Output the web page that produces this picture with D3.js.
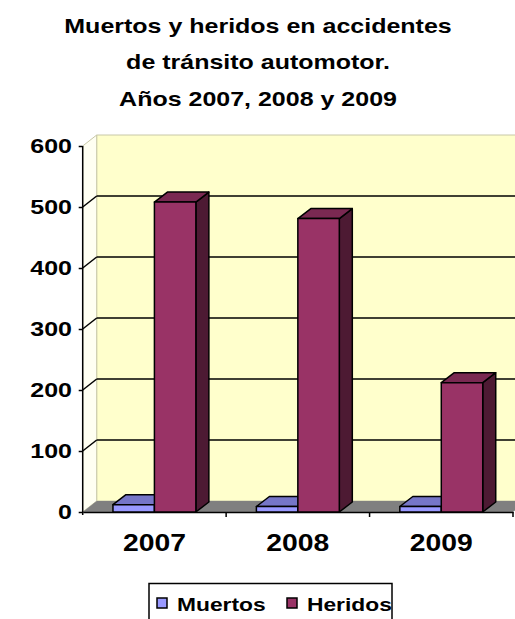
<!DOCTYPE html>
<html>
<head>
<meta charset="utf-8">
<script src="https://cdn.jsdelivr.net/npm/d3@7"></script>
<style>
  body { margin: 0; background: #fff; }
  text { font-family: "Liberation Sans", Arial, sans-serif; font-weight: bold; fill: #000; }
</style>
</head>
<body>
<div id="chart"></div>
<script>
// data
var years = ["2007", "2008", "2009"];
var series = ["Muertos", "Heridos"];
var muertos = [12, 9, 9];
var heridos = [508, 481, 212];
var yTicks = [0, 100, 200, 300, 400, 500, 600];
var titleLines = ["Muertos y heridos en accidentes", "de tránsito automotor.", "Años 2007, 2008 y 2009"];

var w = 515, h = 619;

var colors = {
  Muertos: { front: "#9999ff", top: "#7676c8", side: "#4d4d80" },
  Heridos: { front: "#993366", top: "#7a2952", side: "#4d1a33" }
};

// wall depth and bar depth
var wdx = 14, wdy = -11;
var bdx = 13, bdy = -10;

var svg = d3.select("#chart").append("svg")
  .attr("width", w)
  .attr("height", h);

var y = d3.scaleLinear().domain([0, 600]).range([512, 146]);
var x0 = d3.scaleBand().domain(years).range([82.7, 513]);
var x1 = d3.scaleBand().domain(series).range([0, x0.bandwidth()]).paddingOuter(0.73);

// text is a bit wider than normal in the original picture
function stretched(sel, x, yy, anchor, size, sx) {
  return sel.append("text")
    .attr("transform", "translate(" + x + "," + yy + ") scale(" + sx + ",1)")
    .attr("text-anchor", anchor)
    .style("font-size", size + "px");
}

// title
titleLines.forEach(function (t, i) {
  stretched(svg, 258, 32.5 + i * 36.5, "middle", 21, 1.19).text(t);
});

var left = x0.range()[0], right = x0.range()[1];
var y0 = y(0), yMax = y(600);

// back wall
svg.append("polygon")
  .attr("points", [[left + wdx, yMax + wdy], [right + wdx, yMax + wdy], [right + wdx, y0 + wdy], [left + wdx, y0 + wdy]].join(" "))
  .attr("fill", "#ffffcc")
  .attr("stroke", "#c8c8a8")
  .attr("stroke-width", 1);

// side wall
svg.append("polygon")
  .attr("points", [[left, yMax], [left + wdx, yMax + wdy], [left + wdx, y0 + wdy], [left, y0]].join(" "))
  .attr("fill", "#fffff2")
  .attr("stroke", "#c8c8a8")
  .attr("stroke-width", 1);

// floor
svg.append("polygon")
  .attr("points", [[left, y0], [left + wdx, y0 + wdy], [right + wdx, y0 + wdy], [right, y0]].join(" "))
  .attr("fill", "#808080");

// gridlines on the back wall and the side wall
var grid = yTicks.filter(function (d) { return d > 0 && d < 600; });
svg.selectAll(".grid")
  .data(grid).enter()
  .append("line")
  .attr("x1", left + wdx).attr("x2", right + wdx)
  .attr("y1", function (d) { return y(d) + wdy; })
  .attr("y2", function (d) { return y(d) + wdy; })
  .attr("stroke", "#000").attr("stroke-width", 1.5);

svg.selectAll(".diag")
  .data(grid).enter()
  .append("line")
  .attr("x1", left).attr("x2", left + wdx)
  .attr("y1", function (d) { return y(d); })
  .attr("y2", function (d) { return y(d) + wdy; })
  .attr("stroke", "#000").attr("stroke-width", 1.5);

// y axis
var yAxis = svg.append("g")
  .attr("transform", "translate(" + left + ",0)")
  .call(d3.axisLeft(y).tickValues(yTicks).tickSize(4).tickFormat(""));
yAxis.select(".domain").attr("d", "M0," + (yMax) + "V" + (y0 + 3)).attr("stroke", "#000").attr("stroke-width", 1.5);
yAxis.selectAll(".tick line").attr("stroke", "#000").attr("stroke-width", 1.5);

yTicks.forEach(function (d) {
  stretched(svg, 72, y(d) + 7, "end", 20, 1.25).text(d);
});

// x axis
var xAxis = svg.append("g")
  .attr("transform", "translate(0," + y0 + ")")
  .call(d3.axisBottom(x0).tickSize(0).tickFormat(""));
xAxis.select(".domain").attr("stroke", "#000").attr("stroke-width", 1.5);
xAxis.selectAll(".xt")
  .data(years).enter()
  .append("line")
  .attr("x1", function (d) { return x0(d) + x0.bandwidth(); })
  .attr("x2", function (d) { return x0(d) + x0.bandwidth(); })
  .attr("y1", 0).attr("y2", 5)
  .attr("stroke", "#000").attr("stroke-width", 1.5);

years.forEach(function (d) {
  stretched(svg, x0(d) + x0.bandwidth() / 2, 551, "middle", 24, 1.18).text(d);
});

// bars
var table = [];
years.forEach(function (yr, i) {
  table.push({ year: yr, key: "Muertos", value: muertos[i] });
  table.push({ year: yr, key: "Heridos", value: heridos[i] });
});

var bars = svg.selectAll(".bar")
  .data(table).enter()
  .append("g").attr("class", "bar");

function pts(d, part) {
  var a = x0(d.year) + x1(d.key), b = a + x1.bandwidth();
  var t = y(d.value), bt = y0;
  if (part === "front") return [[a, t], [b, t], [b, bt], [a, bt]];
  if (part === "top") return [[a, t], [a + bdx, t + bdy], [b + bdx, t + bdy], [b, t]];
  return [[b, t], [b + bdx, t + bdy], [b + bdx, bt + bdy], [b, bt]];
}

["side", "top", "front"].forEach(function (part) {
  bars.append("polygon")
    .attr("points", function (d) { return pts(d, part).join(" "); })
    .attr("fill", function (d) { return colors[d.key][part]; })
    .attr("stroke", "#000")
    .attr("stroke-width", 1.5)
    .attr("stroke-linejoin", "round");
});

// legend
var lg = svg.append("g");
lg.append("rect")
  .attr("x", 149).attr("y", 583.5).attr("width", 243).attr("height", 40)
  .attr("fill", "#fff").attr("stroke", "#000").attr("stroke-width", 1.5);
var lx = [157, 287];
series.forEach(function (s, i) {
  lg.append("rect")
    .attr("x", lx[i]).attr("y", 598).attr("width", 10).attr("height", 10)
    .attr("fill", colors[s].front).attr("stroke", "#000").attr("stroke-width", 1.5);
  stretched(lg, lx[i] + 20, 611, "start", 19, 1.2).text(s);
});
</script>
</body>
</html>
